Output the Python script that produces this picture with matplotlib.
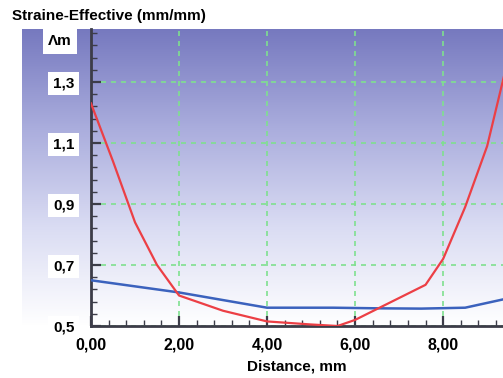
import numpy as np
import matplotlib
matplotlib.use("Agg")
import matplotlib.pyplot as plt
from matplotlib.colors import LinearSegmentedColormap

plt.rcParams['font.family'] = ['Liberation Sans', 'DejaVu Sans']

# data
red_x = [0.0, 0.5, 1.0, 1.5, 2.0, 3.0, 4.0, 5.0, 5.6, 6.0, 7.6, 8.0, 8.5, 9.0, 9.45]
red_y = [1.23, 1.04, 0.84, 0.70, 0.60, 0.55, 0.515, 0.505, 0.50, 0.52, 0.635, 0.72, 0.89, 1.09, 1.36]
blue_x = [0.0, 2.0, 4.0, 5.5, 6.5, 7.5, 8.5, 9.45]
blue_y = [0.65, 0.61, 0.56, 0.56, 0.558, 0.557, 0.56, 0.59]
x_ticks = [0, 2, 4, 6, 8]
x_labels = ['0,00', '2,00', '4,00', '6,00', '8,00']
y_ticks = [0.5, 0.7, 0.9, 1.1, 1.3]
y_labels = ['0,5', '0,7', '0,9', '1,1', '1,3']

W, H = 503, 378
fig = plt.figure(figsize=(W / 100, H / 100), dpi=100)

# gradient panel behind the plot
bg = fig.add_axes([22 / W, 1 - 326 / H, (W - 22) / W, (326 - 29) / H])
cmap = LinearSegmentedColormap.from_list('bg', ['#7679bf', '#aaaddd', '#dadcf3', '#ffffff'])
grad = np.linspace(0, 1, 256).reshape(-1, 1)
bg.imshow(grad, aspect='auto', cmap=cmap, extent=[0, 1, 0, 1], origin='upper')
bg.axis('off')

ax = fig.add_axes([91 / W, 1 - 326 / H, (W - 91) / W, (326 - 29) / H])
ax.patch.set_alpha(0)
ax.set_xlim(0, 9.36)
ax.set_ylim(0.5, 1.474)

ax.plot(blue_x, blue_y, color='#3b62bd', lw=1.8, zorder=3)
ax.plot(red_x, red_y, color='#ec3f45', lw=1.6, zorder=4)

ax.set_xticks(x_ticks)
ax.set_xticklabels(x_labels, fontweight='bold', fontsize=11.5)
ax.set_yticks(y_ticks)
ax.set_yticklabels(y_labels, fontweight='bold', fontsize=11)
ax.set_xticks(np.arange(0, 9.4, 0.4), minor=True)
ax.set_yticks(np.arange(0.5, 1.47, 0.04), minor=True)
ax.tick_params(axis='both', which='major', direction='in', length=7, width=1.6, color='#3c3c48')
ax.tick_params(axis='both', which='minor', direction='in', length=4, width=1.0, color='#3c3c48')
ax.tick_params(axis='y', which='major', pad=12)
ax.tick_params(axis='x', which='major', pad=8)
for lbl in ax.get_yticklabels():
    lbl.set_bbox(dict(facecolor='white', edgecolor='none', pad=3.5))

ax.grid(True, which='major', color='#7fe08f', linestyle=(0, (3, 3)), lw=1.2)
for s in ['top', 'right']:
    ax.spines[s].set_visible(False)
for s in ['left', 'bottom']:
    ax.spines[s].set_color('#3c3c48')
    ax.spines[s].set_linewidth(2)

ax.text(-0.075, 1.434, 'Λm', transform=ax.get_yaxis_transform(), ha='center', va='center',
        fontsize=11, fontweight='bold',
        bbox=dict(facecolor='white', edgecolor='none', boxstyle='square,pad=0.35'))

ax.set_xlabel('Distance, mm', fontweight='bold', fontsize=11, labelpad=5)
fig.text(12 / W, 1 - 16 / H, 'Straine-Effective (mm/mm)', ha='left', va='center',
         fontweight='bold', fontsize=11)

fig.savefig('out.png', dpi=100)
